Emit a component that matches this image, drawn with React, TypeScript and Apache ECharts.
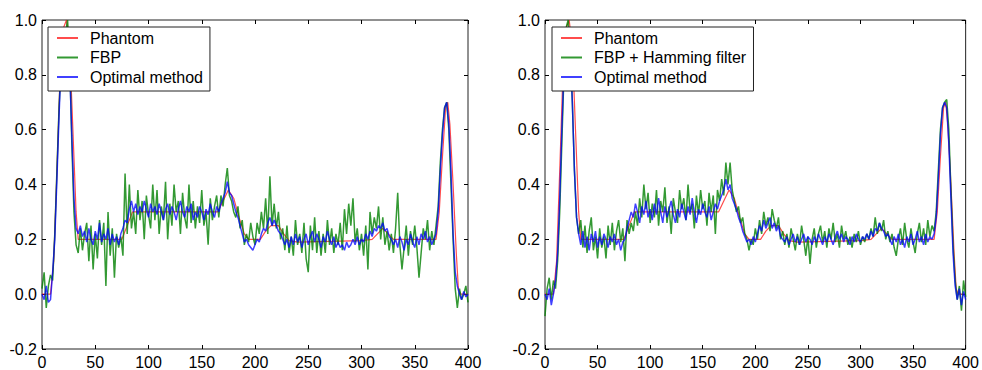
import React, { useEffect, useRef } from "react";
import * as echarts from "echarts";

// Sampling step of the reconstructed profiles (x = index * X_STEP)
const X_STEP = 2;

const X_TICKS = { min: 0, max: 400, interval: 50 };
const Y_TICKS = { min: -0.2, max: 1.0, interval: 0.2 };

// Phantom profile (vertices)
const PHANTOM_X = [0, 8, 11, 14, 17, 20, 23, 26, 29, 32, 34, 75, 80, 85, 165, 170, 175, 180, 185, 190, 194, 205, 210, 215, 222, 227, 232, 240, 300, 310, 315, 320, 325, 330, 370, 373, 376, 379, 381, 383, 386, 389, 391, 393, 400];
const PHANTOM_Y = [0, 0, 0.12, 0.45, 0.8, 0.97, 1.0, 0.9, 0.6, 0.3, 0.2, 0.2, 0.25, 0.3, 0.3, 0.34, 0.38, 0.35, 0.28, 0.22, 0.2, 0.2, 0.23, 0.25, 0.25, 0.22, 0.195, 0.19, 0.195, 0.2, 0.22, 0.24, 0.22, 0.2, 0.2, 0.3, 0.5, 0.68, 0.7, 0.62, 0.4, 0.15, 0.02, 0, 0];

// Left panel: FBP
const FBP_LEFT = [
  0.02, 0.08, -0.05, 0.03, 0.07, 0.05, 0.22, 0.45, 0.68, 0.85,
  0.92, 0.95, 1.0, 0.86, 0.55, 0.3, 0.18, 0.15, 0.24, 0.16,
  0.22, 0.26, 0.12, 0.25, 0.09, 0.22, 0.13, 0.27, 0.18, 0.26,
  0.03, 0.3, 0.14, 0.24, 0.06, 0.22, 0.17, 0.21, 0.14, 0.44,
  0.22, 0.4, 0.24, 0.3, 0.22, 0.38, 0.27, 0.34, 0.2, 0.36,
  0.29, 0.24, 0.4, 0.27, 0.38, 0.22, 0.32, 0.27, 0.41, 0.2,
  0.33, 0.25, 0.4, 0.3, 0.34, 0.22, 0.37, 0.28, 0.24, 0.4,
  0.26, 0.34, 0.24, 0.32, 0.26, 0.38, 0.25, 0.3, 0.18, 0.35,
  0.27, 0.32, 0.36, 0.28, 0.36, 0.32, 0.4, 0.46, 0.36, 0.34,
  0.3, 0.28, 0.32, 0.24, 0.27, 0.18, 0.22, 0.19, 0.26, 0.21,
  0.18, 0.26, 0.22, 0.3, 0.24, 0.35, 0.22, 0.43, 0.25, 0.33,
  0.24, 0.3, 0.2, 0.24, 0.16, 0.25, 0.15, 0.21, 0.14, 0.27,
  0.18, 0.22, 0.15, 0.26, 0.13, 0.08, 0.25, 0.16, 0.28, 0.15,
  0.23, 0.14, 0.22, 0.15, 0.27, 0.18, 0.24, 0.15, 0.22, 0.18,
  0.26, 0.16, 0.31, 0.22, 0.33, 0.25, 0.35, 0.19, 0.24, 0.16,
  0.22, 0.14, 0.25, 0.09, 0.3, 0.22, 0.28, 0.24, 0.32, 0.2,
  0.28, 0.18, 0.23, 0.16, 0.22, 0.15, 0.24, 0.37, 0.18, 0.09,
  0.17, 0.25, 0.14, 0.23, 0.18, 0.25, 0.17, 0.06, 0.15, 0.24,
  0.2, 0.27, 0.16, 0.23, 0.18, 0.25, 0.32, 0.48, 0.6, 0.68,
  0.7, 0.6, 0.4, 0.2, 0.02, -0.05, 0.02, -0.02, 0.0, 0.03,
  -0.03,
];

// Left panel: optimal method
const OPT_LEFT = [
  0.0, -0.02, 0.03, -0.03, -0.02, 0.08, 0.2, 0.42, 0.65, 0.85,
  0.95, 0.97, 0.95, 0.82, 0.58, 0.35, 0.24, 0.22, 0.25, 0.21,
  0.23, 0.19, 0.24, 0.2, 0.18, 0.23, 0.2, 0.26, 0.19, 0.22,
  0.2, 0.24, 0.18, 0.22, 0.19, 0.21, 0.18, 0.22, 0.24, 0.27,
  0.26, 0.31, 0.34, 0.3, 0.33, 0.29, 0.32, 0.3, 0.34, 0.31,
  0.28, 0.33, 0.3, 0.32, 0.29, 0.33, 0.3, 0.27, 0.31, 0.33,
  0.29, 0.32, 0.3, 0.27, 0.31, 0.34, 0.3, 0.28, 0.32, 0.3,
  0.33, 0.27, 0.3, 0.28, 0.32, 0.3, 0.27, 0.31, 0.29, 0.33,
  0.3, 0.28, 0.32, 0.3, 0.33, 0.35, 0.37, 0.41, 0.37, 0.36,
  0.33, 0.3, 0.28, 0.25, 0.22, 0.19, 0.2, 0.18, 0.17, 0.16,
  0.18, 0.2, 0.19, 0.22, 0.24, 0.23, 0.26, 0.28, 0.25, 0.27,
  0.25, 0.23, 0.22, 0.2, 0.18, 0.2, 0.17, 0.21, 0.18, 0.22,
  0.19, 0.21, 0.17, 0.2, 0.22, 0.18, 0.21, 0.23, 0.19, 0.22,
  0.2, 0.17, 0.21, 0.19, 0.23, 0.2, 0.18, 0.21, 0.17, 0.19,
  0.17, 0.18, 0.16, 0.19, 0.17, 0.18, 0.2, 0.18, 0.21, 0.18,
  0.2, 0.19, 0.22, 0.2, 0.23, 0.21, 0.24, 0.23, 0.25, 0.24,
  0.26, 0.23, 0.24, 0.21, 0.2, 0.18, 0.2, 0.17, 0.21, 0.19,
  0.16, 0.2, 0.18, 0.22, 0.19, 0.17, 0.21, 0.18, 0.22, 0.2,
  0.23, 0.19, 0.21, 0.18, 0.2, 0.22, 0.3, 0.45, 0.58, 0.68,
  0.7, 0.62, 0.45, 0.22, 0.08, 0.03, 0.0, -0.02, 0.01, -0.01,
  0.0,
];

// Right panel: FBP + Hamming filter
const FBP_RIGHT = [
  -0.08, 0.02, 0.06, -0.02, 0.05, 0.02, 0.12, 0.3, 0.55, 0.8,
  0.97, 1.0, 0.9, 0.7, 0.45, 0.28, 0.22, 0.27, 0.17, 0.25,
  0.15, 0.23, 0.28, 0.16, 0.21, 0.13, 0.24, 0.17, 0.21, 0.13,
  0.25, 0.18, 0.26, 0.16, 0.23, 0.27, 0.19, 0.24, 0.12, 0.27,
  0.22, 0.26, 0.23, 0.3, 0.25, 0.35, 0.28, 0.4, 0.31, 0.37,
  0.26, 0.33, 0.28, 0.38, 0.25, 0.34, 0.3, 0.39, 0.26, 0.32,
  0.22, 0.35, 0.3, 0.26, 0.38, 0.31, 0.35, 0.27, 0.4, 0.3,
  0.33, 0.24, 0.36, 0.29, 0.38, 0.31, 0.34, 0.25, 0.37, 0.3,
  0.36, 0.22, 0.38, 0.34, 0.42, 0.36, 0.48, 0.4, 0.48, 0.38,
  0.34, 0.3, 0.32, 0.26, 0.28, 0.22, 0.2, 0.16, 0.2, 0.18,
  0.24, 0.2, 0.27, 0.22, 0.3, 0.25, 0.28, 0.23, 0.31, 0.27,
  0.24, 0.28, 0.2, 0.23, 0.18, 0.22, 0.17, 0.24, 0.2, 0.16,
  0.22, 0.18, 0.25, 0.2, 0.14, 0.21, 0.11, 0.2, 0.24, 0.17,
  0.22, 0.25, 0.19, 0.23, 0.17, 0.24, 0.2, 0.26, 0.19, 0.22,
  0.17, 0.25, 0.2, 0.23, 0.18, 0.21, 0.17, 0.22, 0.19, 0.23,
  0.18, 0.21, 0.19, 0.22, 0.2, 0.24, 0.21, 0.28, 0.22, 0.26,
  0.23, 0.27, 0.2, 0.23, 0.19, 0.22, 0.17, 0.14, 0.2, 0.24,
  0.18, 0.26, 0.2, 0.17, 0.24, 0.19, 0.15, 0.22, 0.26, 0.19,
  0.24, 0.18, 0.27, 0.21, 0.25, 0.23, 0.3, 0.45, 0.6, 0.68,
  0.7, 0.71, 0.6, 0.38, 0.18, 0.05, -0.02, 0.03, -0.06, 0.05,
  -0.01,
];

// Right panel: optimal method
const OPT_RIGHT = [
  0.0, -0.02, 0.02, -0.04, 0.0, 0.05, 0.15, 0.35, 0.6, 0.82,
  0.95, 0.97, 0.9, 0.7, 0.45, 0.28, 0.22, 0.18, 0.23, 0.17,
  0.21, 0.16, 0.22, 0.19, 0.23, 0.17, 0.21, 0.18, 0.22, 0.2,
  0.17, 0.21, 0.19, 0.22, 0.18, 0.2, 0.16, 0.19, 0.2, 0.24,
  0.27, 0.3, 0.28, 0.33, 0.3, 0.26, 0.32, 0.29, 0.34, 0.28,
  0.31, 0.27, 0.33, 0.29, 0.35, 0.3, 0.26, 0.32, 0.28, 0.31,
  0.34, 0.29, 0.26, 0.31, 0.28, 0.33, 0.3, 0.27, 0.32, 0.29,
  0.35, 0.3, 0.26, 0.31, 0.29, 0.33, 0.3, 0.28, 0.32, 0.27,
  0.3, 0.33, 0.31, 0.34, 0.36, 0.38, 0.42, 0.38, 0.4, 0.35,
  0.33, 0.31, 0.28, 0.26, 0.23, 0.21, 0.19, 0.2, 0.18, 0.21,
  0.19, 0.22, 0.25, 0.23, 0.27, 0.24, 0.26, 0.28, 0.24, 0.26,
  0.23, 0.25, 0.21, 0.2, 0.19, 0.21, 0.18, 0.2, 0.22, 0.19,
  0.21, 0.18, 0.2, 0.22, 0.19, 0.21, 0.2, 0.18, 0.21, 0.19,
  0.22, 0.2, 0.18, 0.21, 0.19, 0.22, 0.2, 0.18, 0.21, 0.23,
  0.2, 0.22, 0.19, 0.21, 0.2, 0.18, 0.21, 0.19, 0.22, 0.2,
  0.19, 0.21, 0.2, 0.22, 0.2, 0.23, 0.21, 0.24, 0.23, 0.26,
  0.24, 0.23, 0.21, 0.22, 0.2, 0.18, 0.21, 0.19, 0.22, 0.18,
  0.2, 0.17, 0.21, 0.19, 0.22, 0.18, 0.2, 0.23, 0.19, 0.21,
  0.18, 0.22, 0.19, 0.21, 0.2, 0.22, 0.28, 0.42, 0.58, 0.68,
  0.7, 0.68, 0.55, 0.35, 0.15, 0.03, -0.02, 0.02, -0.04, 0.01,
  -0.02,
];

const LEGEND_LEFT = ["Phantom", "FBP", "Optimal method"];
const LEGEND_RIGHT = ["Phantom", "FBP + Hamming filter", "Optimal method"];

const COLOR_PHANTOM = "rgba(255,0,0,0.7)";
const COLOR_FBP = "rgba(0,128,0,0.8)";
const COLOR_OPT = "rgba(0,0,255,0.75)";
const FONT = "'Liberation Sans', Arial, sans-serif";

const toPairs = (ys: number[]) => ys.map((y, i) => [i * X_STEP, y]);
const phantomPairs = PHANTOM_X.map((x, i) => [x, PHANTOM_Y[i]]);

const fmtY = (v: number) => (Math.abs(v) < 1e-9 ? "0.0" : v.toFixed(1));

export default function App() {
  const ref = useRef<HTMLDivElement>(null);

  useEffect(() => {
    document.body.style.margin = "0";
    if (!ref.current) return;
    const chart = echarts.init(ref.current, null, { renderer: "svg" });

    const tick = { show: true, inside: true, length: 4, lineStyle: { color: "#000", width: 1 } };
    const label = { color: "#000", fontSize: 16, fontFamily: FONT };

    const xAx = (gridIndex: number, position: "bottom" | "top") => ({
      type: "value",
      gridIndex,
      position,
      ...X_TICKS,
      axisLine: { show: false, onZero: false },
      axisTick: tick,
      splitLine: { show: false },
      axisLabel: { ...label, show: position === "bottom", margin: 5 },
    });
    const yAx = (gridIndex: number, position: "left" | "right") => ({
      type: "value",
      gridIndex,
      position,
      ...Y_TICKS,
      axisLine: { show: false, onZero: false },
      axisTick: tick,
      splitLine: { show: false },
      axisLabel: { ...label, show: position === "left", margin: 5, formatter: fmtY },
    });

    const line = (name: string, data: number[][], color: string, width: number, xi: number, yi: number) => ({
      type: "line",
      name,
      data,
      xAxisIndex: xi,
      yAxisIndex: yi,
      showSymbol: false,
      symbol: "none",
      lineStyle: { color, width },
      itemStyle: { color },
      clip: true,
    });

    const legend = (left: number, data: string[]) => ({
      orient: "vertical",
      left,
      top: 27,
      data,
      icon: "rect",
      itemWidth: 21,
      itemHeight: 2,
      itemGap: 3.5,
      padding: [3, 7, 6, 9],
      borderColor: "#222",
      borderWidth: 1,
      backgroundColor: "#fff",
      selectedMode: false,
      textStyle: { color: "#000", fontSize: 16, fontFamily: FONT, lineHeight: 16, padding: [0, 0, 0, 7] },
    });

    chart.setOption({
      animation: false,
      backgroundColor: "#fff",
      grid: [
        { left: 42, top: 20, width: 426, height: 331, show: true, borderColor: "#222", borderWidth: 1, backgroundColor: "transparent" },
        { left: 545, top: 20, width: 426, height: 331, show: true, borderColor: "#222", borderWidth: 1, backgroundColor: "transparent" },
      ],
      xAxis: [xAx(0, "bottom"), xAx(0, "top"), xAx(1, "bottom"), xAx(1, "top")],
      yAxis: [yAx(0, "left"), yAx(0, "right"), yAx(1, "left"), yAx(1, "right")],
      legend: [legend(48, LEGEND_LEFT), legend(552, LEGEND_RIGHT)],
      series: [
        line("Phantom", phantomPairs, COLOR_PHANTOM, 1.2, 0, 0),
        line("FBP", toPairs(FBP_LEFT), COLOR_FBP, 1.5, 0, 0),
        line("Optimal method", toPairs(OPT_LEFT), COLOR_OPT, 1.5, 0, 0),
        line("Phantom", phantomPairs, COLOR_PHANTOM, 1.2, 2, 2),
        line("FBP + Hamming filter", toPairs(FBP_RIGHT), COLOR_FBP, 1.5, 2, 2),
        line("Optimal method", toPairs(OPT_RIGHT), COLOR_OPT, 1.5, 2, 2),
      ],
    });

    return () => chart.dispose();
  }, []);

  return <div ref={ref} style={{ width: 982, height: 370 }} />;
}
